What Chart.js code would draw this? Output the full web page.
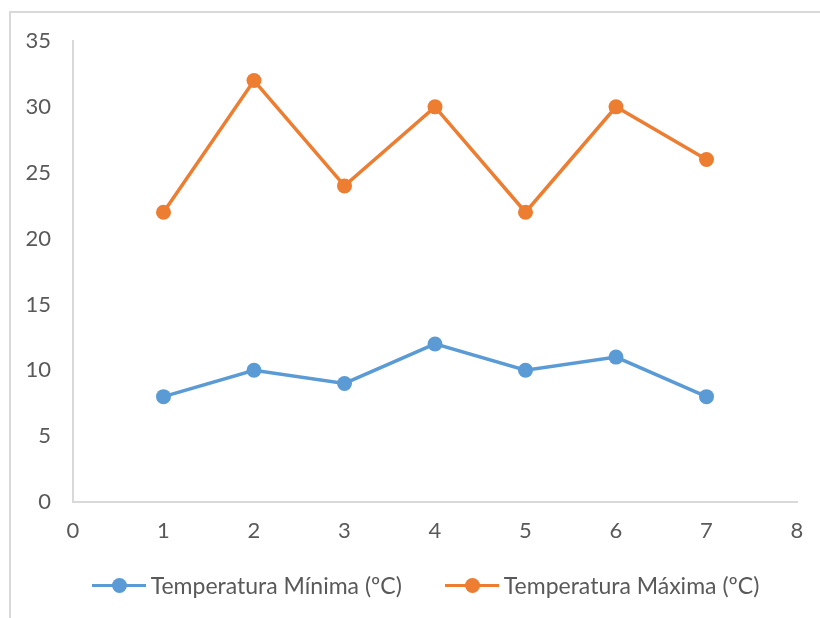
<!DOCTYPE html>
<html>
<head>
<meta charset="utf-8">
<script src="https://cdn.jsdelivr.net/npm/chart.js@4"></script>
<style>
  html, body { margin: 0; padding: 0; background: #fff; }
  #frame { position: absolute; left: 9px; top: 11px; width: 830px; height: 630px;
           border-left: 2px solid #d9d9d9; border-top: 2px solid #d9d9d9; }
  #wrap { position: absolute; left: 0; top: 0; width: 820px; height: 618px; }
  #legenda { position: absolute; left: 0; top: 571px; width: 851px; height: 28px;
             display: flex; justify-content: center; gap: 43px;
             font-family: Lato, "Open Sans", sans-serif; font-size: 23px; color: #595959; }
  .item { display: flex; align-items: center; }
  .linha { position: relative; width: 54px; height: 3px; margin-right: 5px; }
  .bola { position: absolute; left: 20px; top: -6px; width: 15px; height: 15px; border-radius: 50%; }
</style>
</head>
<body>
<div id="frame"></div>
<div id="wrap"><canvas id="chart"></canvas></div>
<div id="legenda"></div>
<script>
// dados do gráfico
const dias = [1, 2, 3, 4, 5, 6, 7];
const tempMinima = [8, 10, 9, 12, 10, 11, 8];
const tempMaxima = [22, 32, 24, 30, 22, 30, 26];

const azul = '#5B9BD5';
const laranja = '#ED7D31';
const cinza = '#595959';
const fonte = 'Lato, "Open Sans", sans-serif';

function serie(label, valores, cor) {
  return {
    label: label,
    data: dias.map((d, i) => ({ x: d, y: valores[i] })),
    borderColor: cor,
    backgroundColor: cor,
    borderWidth: 3.5,
    pointRadius: 7.5,
    pointHoverRadius: 7.5,
    pointBorderWidth: 0,
    showLine: true,
    tension: 0
  };
}

const grafico = new Chart(document.getElementById('chart'), {
  type: 'scatter',
  data: {
    datasets: [
      serie('Temperatura Mínima (ºC)', tempMinima, azul),
      serie('Temperatura Máxima (ºC)', tempMaxima, laranja)
    ]
  },
  options: {
    responsive: true,
    maintainAspectRatio: false,
    animation: false,
    layout: { padding: { left: 10, right: 23, top: 41, bottom: 66 } },
    scales: {
      x: {
        type: 'linear', min: 0, max: 8,
        ticks: { stepSize: 1, color: cinza, font: { family: fonte, size: 22 }, padding: 16 },
        grid: { display: false, drawTicks: false },
        border: { color: '#d9d9d9', width: 2 },
        afterFit: s => { s.height = 50; }
      },
      y: {
        min: 0, max: 35,
        ticks: { stepSize: 5, color: cinza, font: { family: fonte, size: 22 }, padding: 22 },
        grid: { display: false, drawTicks: false },
        border: { color: '#d9d9d9', width: 2 },
        afterFit: s => { s.width = 63; }
      }
    },
    plugins: {
      tooltip: { enabled: false },
      legend: { display: false }
    }
  }
});

// legenda em HTML (linha com círculo, como no Excel)
const legenda = document.getElementById('legenda');
grafico.data.datasets.forEach(ds => {
  const item = document.createElement('div');
  item.className = 'item';
  const linha = document.createElement('span');
  linha.className = 'linha';
  linha.style.background = ds.borderColor;
  const bola = document.createElement('span');
  bola.className = 'bola';
  bola.style.background = ds.borderColor;
  linha.appendChild(bola);
  const texto = document.createElement('span');
  texto.textContent = ds.label;
  item.appendChild(linha);
  item.appendChild(texto);
  legenda.appendChild(item);
});
</script>
</body>
</html>
